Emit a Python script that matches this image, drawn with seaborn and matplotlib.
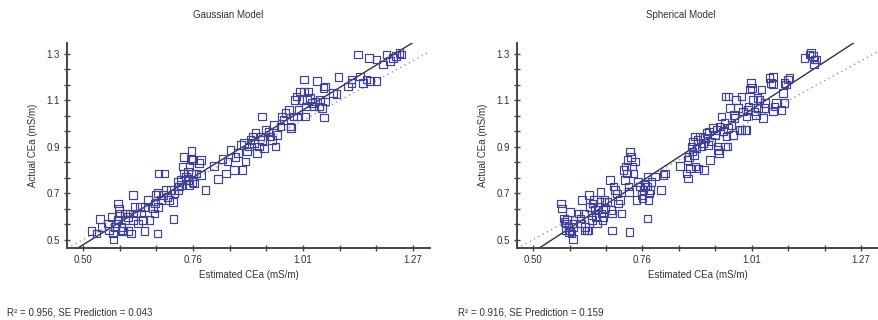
import numpy as np
import pandas as pd
import matplotlib
matplotlib.use("Agg")
import matplotlib.pyplot as plt
import seaborn as sns

# ---------------- data ----------------
gauss_est = [0.519, 0.539, 0.558, 0.560, 0.570, 0.571, 0.581, 0.583, 0.585, 0.581, 0.577, 0.589,
             0.593, 0.598, 0.604, 0.608, 0.604, 0.591, 0.616, 0.620, 0.624, 0.616, 0.628, 0.635,
             0.643, 0.651, 0.643, 0.655, 0.666, 0.668, 0.670, 0.674, 0.673, 0.663, 0.682, 0.674,
             0.566, 0.574, 0.597, 0.612, 0.632, 0.640, 0.543, 0.531,
             0.676, 0.690, 0.693, 0.697, 0.701, 0.709, 0.711, 0.713, 0.721, 0.721, 0.724, 0.728,
             0.732, 0.736, 0.740, 0.744, 0.748, 0.752, 0.753, 0.755, 0.759, 0.763, 0.771, 0.775,
             0.775, 0.752, 0.744, 0.736, 0.786, 0.755, 0.748, 0.728, 0.705, 0.686,
             0.806, 0.815, 0.825, 0.833, 0.837, 0.844, 0.852, 0.856, 0.861, 0.868, 0.872, 0.875,
             0.879, 0.883, 0.887, 0.891, 0.895, 0.899, 0.902, 0.906, 0.910, 0.914, 0.918, 0.918,
             0.922, 0.926, 0.933, 0.937, 0.941, 0.945, 0.949, 0.953, 0.961, 0.964, 0.968, 0.972,
             0.980, 0.984, 0.985, 0.991, 0.995, 0.998, 0.999, 1.003, 1.007, 1.011, 1.015, 1.016,
             1.019, 1.021, 1.022, 1.026, 1.030, 1.034, 1.038, 1.042, 1.046, 1.050, 1.053, 1.057,
             1.061, 1.065, 1.065, 1.063, 1.084, 1.096, 1.092, 1.127, 1.142, 1.146, 1.154, 1.162,
             1.170, 1.185, 1.168, 1.185, 1.200, 1.208, 1.216, 1.224, 1.231, 1.239, 1.243, 1.119,
             1.127]
gauss_act = [0.536, 0.588, 0.569, 0.540, 0.526, 0.500, 0.656, 0.634, 0.612, 0.584, 0.569, 0.555,
             0.540, 0.584, 0.598, 0.612, 0.536, 0.536, 0.692, 0.641, 0.612, 0.584, 0.569, 0.612,
             0.641, 0.670, 0.536, 0.584, 0.612, 0.656, 0.692, 0.641, 0.526, 0.634, 0.670, 0.702,
             0.598, 0.555, 0.612, 0.526, 0.641, 0.584, 0.555, 0.526,
             0.785, 0.785, 0.713, 0.684, 0.670, 0.663, 0.588, 0.699, 0.749, 0.713, 0.728, 0.756,
             0.814, 0.785, 0.771, 0.756, 0.814, 0.785, 0.882, 0.843, 0.742, 0.785, 0.829, 0.778,
             0.843, 0.850, 0.793, 0.857, 0.713, 0.749, 0.735, 0.735, 0.713, 0.692,
             0.818, 0.761, 0.847, 0.785, 0.836, 0.886, 0.800, 0.857, 0.872, 0.908, 0.800, 0.915,
             0.836, 0.879, 0.901, 0.929, 0.944, 0.915, 0.958, 0.872, 0.901, 0.944, 1.030, 0.929,
             0.893, 0.973, 0.965, 0.944, 0.929, 0.994, 0.901, 0.951, 0.987, 1.030, 1.016, 1.045,
             1.059, 0.987, 0.980, 1.030, 1.102, 1.117, 1.030, 1.059, 1.138, 1.102, 1.189, 1.138,
             1.030, 1.073, 1.102, 1.138, 1.110, 1.088, 1.073, 1.095, 1.182, 1.073, 1.102, 1.066,
             1.153, 1.160, 1.095, 1.026, 1.131, 1.200, 1.127, 1.174, 1.297, 1.203, 1.174, 1.189,
             1.182, 1.182, 1.282, 1.275, 1.254, 1.297, 1.268, 1.282, 1.290, 1.304, 1.297, 1.160,
             1.189]

sph_est = [0.566, 0.568, 0.572, 0.574, 0.577, 0.580, 0.583, 0.585, 0.587, 0.590, 0.591, 0.594,
           0.587, 0.595, 0.576, 0.607, 0.611, 0.613, 0.615, 0.619, 0.621, 0.622, 0.626, 0.630,
           0.632, 0.634, 0.637, 0.638, 0.640, 0.642, 0.646, 0.647, 0.650, 0.654, 0.658, 0.660,
           0.661, 0.663, 0.665, 0.669, 0.668, 0.673, 0.681, 0.683, 0.685, 0.685, 0.689, 0.693,
           0.697, 0.700, 0.704, 0.708, 0.712, 0.716, 0.718, 0.720, 0.722, 0.724, 0.725, 0.728,
           0.730, 0.732, 0.736, 0.739, 0.743, 0.747, 0.751, 0.755, 0.757, 0.759, 0.763, 0.767,
           0.769, 0.771, 0.769, 0.772, 0.775, 0.778, 0.786, 0.800, 0.806, 0.810, 0.726,
           0.845, 0.860, 0.863, 0.864, 0.866, 0.868, 0.872, 0.874, 0.876, 0.878, 0.880, 0.881,
           0.884, 0.886, 0.888, 0.892, 0.895, 0.899, 0.902, 0.903, 0.907, 0.910, 0.913, 0.915,
           0.919, 0.923, 0.927, 0.931, 0.933, 0.934, 0.936, 0.938, 0.942, 0.946, 0.949, 0.950,
           0.952, 0.954, 0.956, 0.958, 0.959, 0.962, 0.966, 0.970, 0.972, 0.973, 0.977, 0.981,
           0.985, 0.989, 0.993, 0.997, 1.001, 0.989, 1.001, 1.005, 1.006, 1.009, 1.012, 1.014,
           1.016, 1.020, 1.024, 1.027, 1.028, 1.032, 1.036, 1.040, 1.042, 1.044, 1.055, 1.059,
           1.063, 1.063, 1.063, 1.067, 1.071, 1.083, 1.087, 1.090, 1.090, 1.094, 1.098, 1.102,
           1.137, 1.149, 1.153, 1.157, 1.161, 1.159, 1.165]
sph_act = [0.656, 0.634, 0.591, 0.576, 0.569, 0.584, 0.555, 0.533, 0.540, 0.526, 0.569, 0.504,
           0.620, 0.555, 0.540, 0.612, 0.591, 0.569, 0.670, 0.612, 0.540, 0.555, 0.540, 0.540,
           0.692, 0.641, 0.605, 0.584, 0.656, 0.670, 0.627, 0.598, 0.569, 0.641, 0.706, 0.663,
           0.612, 0.584, 0.598, 0.634, 0.670, 0.663, 0.756, 0.627, 0.540, 0.612, 0.728, 0.713,
           0.699, 0.656, 0.670, 0.612, 0.800, 0.756, 0.814, 0.785, 0.843, 0.728, 0.706, 0.879,
           0.857, 0.814, 0.785, 0.836, 0.670, 0.749, 0.728, 0.692, 0.677, 0.713, 0.735, 0.728,
           0.771, 0.670, 0.591, 0.699, 0.713, 0.749, 0.771, 0.713, 0.778, 0.785, 0.533,
           0.818, 0.785, 0.843, 0.764, 0.857, 0.807, 0.901, 0.879, 0.922, 0.865, 0.944, 0.814,
           0.893, 0.929, 0.807, 0.944, 0.901, 0.915, 0.800, 0.937, 0.958, 0.908, 0.965, 0.843,
           0.922, 0.980, 0.951, 0.973, 0.901, 0.886, 0.872, 0.987, 1.030, 0.965, 1.001, 0.901,
           1.117, 0.944, 0.901, 0.980, 1.117, 1.066, 0.994, 0.951, 1.037, 1.023, 1.102, 1.066,
           0.973, 0.973, 1.052, 0.973, 0.973, 1.117, 1.030, 1.059, 1.073, 1.146, 1.174, 1.153,
           1.102, 1.052, 1.037, 1.110, 1.066, 1.102, 1.146, 1.023, 1.066, 1.088, 1.196, 1.174,
           1.167, 1.203, 1.052, 1.073, 1.088, 1.059, 1.131, 1.088, 1.174, 1.167, 1.189, 1.196,
           1.282, 1.297, 1.304, 1.290, 1.275, 1.254, 1.275]

titles = ["Gaussian Model", "Spherical Model"]
stats_text = ["R\u00b2 = 0.956, SE Prediction = 0.043", "R\u00b2 = 0.916, SE Prediction = 0.159"]
x_ticks = [0.50, 0.5856, 0.6711, 0.7567, 0.8422, 0.9278, 1.0133, 1.0989, 1.1844, 1.27]
x_ticklabels = ["0.50", "", "", "0.76", "", "", "1.01", "", "", "1.27"]
y_ticks = [0.5, 0.5667, 0.6333, 0.7, 0.7667, 0.8333, 0.9, 0.9667, 1.0333, 1.1, 1.1667, 1.2333, 1.3]
y_ticklabels = ["0.5", "", "", "0.7", "", "", "0.9", "", "", "1.1", "", "", "1.3"]

# ---------------- style ----------------
sns.set_theme(style="ticks")
plt.rcParams["font.family"] = ["Liberation Sans", "DejaVu Sans"]
plt.rcParams["font.size"] = 7

MARK = "#40409f"
AXC = "#444444"
TXT = "#333333"

fig = plt.figure(figsize=(8.79, 3.20), dpi=100)
axes = [fig.add_axes([0.0762, 0.225, 0.413, 0.641]),
        fig.add_axes([0.588, 0.225, 0.411, 0.641])]
title_x = [0.259, 0.774]
stats_x = [0.008, 0.521]

datasets = [(gauss_est, gauss_act), (sph_est, sph_act)]
for i, ax in enumerate(axes):
    est, act = datasets[i]
    df = pd.DataFrame({"Estimated": est, "Actual": act})
    xlim = (0.462, 1.31)
    ylim = (0.464, 1.347)
    ax.set_xlim(xlim)
    ax.set_ylim(ylim)
    # 1:1 line
    sns.lineplot(x=list(xlim), y=list(xlim), ax=ax, color="#999999",
                 linestyle=(0, (1, 2.5)), linewidth=1.0)
    # least squares regression line across the full axis
    sns.regplot(data=df, x="Estimated", y="Actual", ax=ax, scatter=False, ci=None,
                truncate=False, line_kws=dict(color="#333333", linewidth=1.0))
    sns.scatterplot(data=df, x="Estimated", y="Actual", ax=ax, marker="s", s=30,
                    facecolor="none", edgecolor=MARK, linewidth=0.85, zorder=3)
    ax.set_xlim(xlim)
    ax.set_ylim(ylim)
    ax.set_xticks(x_ticks)
    ax.set_xticklabels(x_ticklabels)
    ax.set_yticks(y_ticks)
    ax.set_yticklabels(y_ticklabels)
    ax.tick_params(direction="inout", length=4, width=1.0, color=AXC,
                   labelsize=7, labelcolor=TXT, pad=3)
    for s in ["top", "right"]:
        ax.spines[s].set_visible(False)
    for s in ["left", "bottom"]:
        ax.spines[s].set_color(AXC)
        ax.spines[s].set_linewidth(1.4)
    ax.set_xlabel("Estimated CEa (mS/m)", fontsize=7, color=TXT, labelpad=4)
    ax.set_ylabel("Actual CEa (mS/m)", fontsize=7, color=TXT, labelpad=6)
    fig.text(title_x[i], 0.953, titles[i], ha="center", va="center", fontsize=7, color=TXT)
    fig.text(stats_x[i], 0.022, stats_text[i], ha="left", va="center", fontsize=7, color=TXT)

fig.savefig("out.png", dpi=100)
